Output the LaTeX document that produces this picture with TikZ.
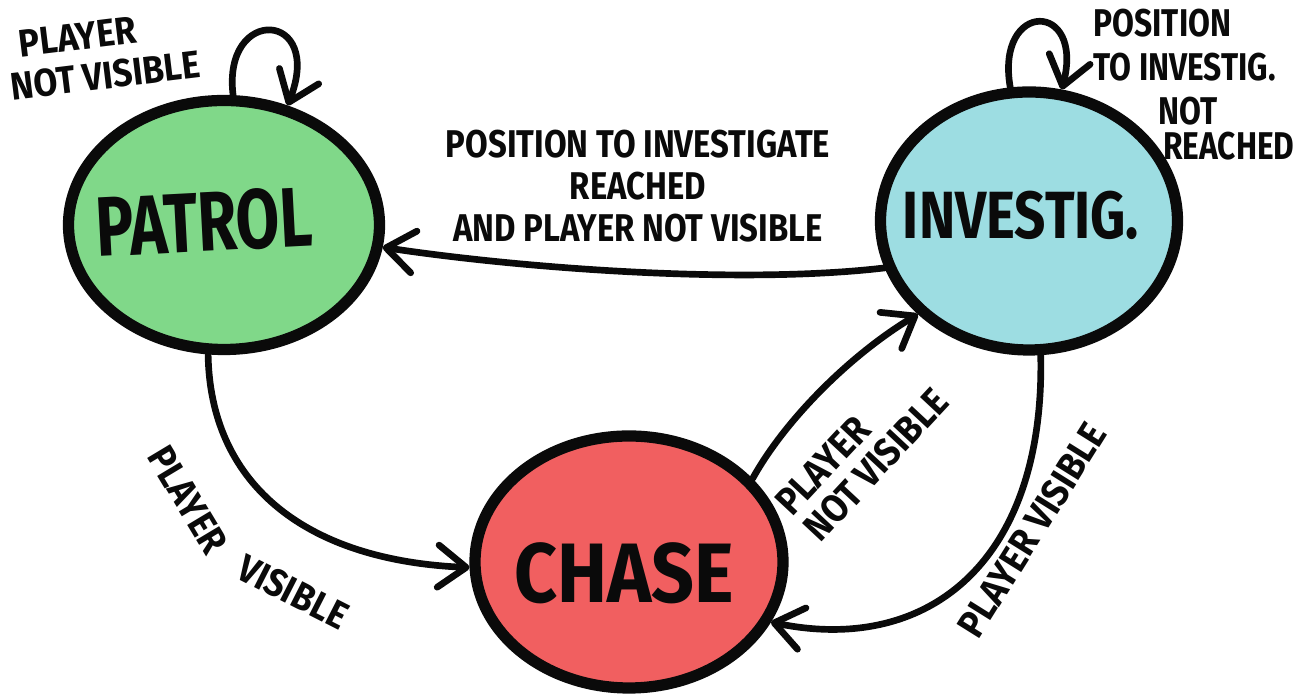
\documentclass[tikz,border=0pt]{standalone}
\usepackage{fontspec}
\setmainfont{Fira Sans}
\usetikzlibrary{shapes.geometric,arrows.meta}
\definecolor{patrolgreen}{RGB}{128,216,137}
\definecolor{investblue}{RGB}{157,221,226}
\definecolor{chasered}{RGB}{241,95,96}
\definecolor{ink}{RGB}{10,10,10}
\begin{document}
\begin{tikzpicture}[x=0.1mm,y=-0.1mm,
  state/.style={ellipse, draw=ink, line width=3.2pt, inner sep=0pt},
  statetext/.style={font=\bfseries\fontsize{24}{24}\selectfont, text=ink, inner sep=0pt},
  lbl/.style={font=\bfseries\fontsize{11}{12}\selectfont, text=ink, inner sep=0pt},
  conn/.style={draw=ink, line width=1.9pt, line cap=round,
    -{Straight Barb[length=8pt,width=12pt,round]}}]
\useasboundingbox (0,0) rectangle (1300,699);

% states
\node[state, fill=patrolgreen, minimum width=31.1mm, minimum height=24.9mm] (patrol) at (224,225) {};
\node[state, fill=investblue, minimum width=29.7mm, minimum height=25.8mm] (investig) at (1029,221) {};
\node[state, fill=chasered, minimum width=30.8mm, minimum height=25.2mm] (chase) at (629,562) {};

\node[statetext, rotate=3, xscale=0.75] (patroltext) at (204,222) {PATROL};
\node[statetext, font=\bfseries\fontsize{19}{19}\selectfont, xscale=0.82] (investigtext) at (1021,215) {INVESTIG.};
\node[statetext, xscale=0.89] (chasetext) at (624,573) {CHASE};

% connectors
\draw[conn] (patrol.86) .. controls (222,5) and (325,10) .. (patrol.62);
\draw[conn] (investig.98) .. controls (995,0) and (1085,0) .. (investig.76);
\draw[conn] (investig.198) .. controls (740,285) and (520,268) .. (patrol.352);
\draw[conn] (patrol.263) .. controls (210,480) and (300,560) .. (chase.182);
\draw[conn] (chase.34) .. controls (785,420) and (850,355) .. (investig.220);
\draw[conn] (investig.275) .. controls (1045,560) and (930,655) .. (chase.337);

% labels
\node[lbl, align=left, rotate=7, xscale=0.9] (lpatrolloop) at (103,55) {\hspace*{1.5mm}PLAYER\\NOT VISIBLE};
\node[lbl, align=left, anchor=north west, xscale=0.82, font=\bfseries\fontsize{11}{12.5}\selectfont] (linvloop) at (1093,8)
  {POSITION\\TO INVESTIG.\\\hspace*{7.9mm}NOT\\[-2.3pt]\hspace*{8.5mm}REACHED};
\node[lbl, align=center, xscale=0.85] (lreach) at (638,186)
  {POSITION TO INVESTIGATE\\REACHED\hspace*{11.4mm}\\AND PLAYER NOT VISIBLE};
\node[lbl, rotate=-59, xscale=0.9] (lpv1) at (188,500) {PLAYER};
\node[lbl, rotate=-27, xscale=0.9] (lpv2) at (293,592) {VISIBLE};
\node[lbl, align=left, rotate=47, xscale=0.9, font=\bfseries\fontsize{11}{11}\selectfont] (lpnv) at (862,452) {PLAYER\\NOT VISIBLE};
\node[lbl, rotate=58, xscale=0.9] (lpv3) at (1032,530) {PLAYER VISIBLE};
\end{tikzpicture}
\end{document}
